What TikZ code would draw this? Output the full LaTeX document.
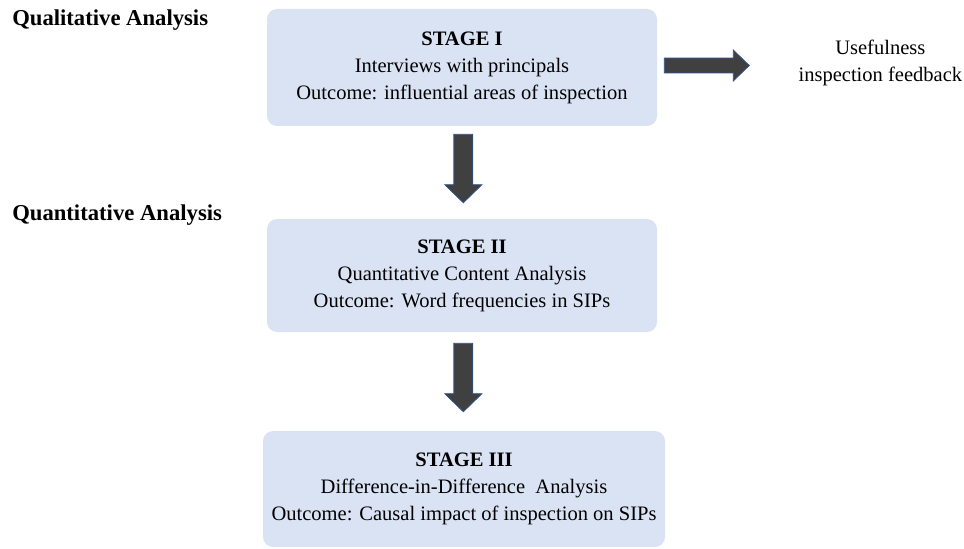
\documentclass[tikz,border=0pt]{standalone}
\usepackage{fontspec}
\setmainfont{Liberation Serif}
\usetikzlibrary{calc,positioning}

\definecolor{stagefill}{HTML}{DAE3F3}
\definecolor{arrowfill}{HTML}{404040}
\definecolor{arrowline}{HTML}{2F528F}

\tikzset{
  stage/.style={rectangle,rounded corners=7.5pt,fill=stagefill,align=center,
    inner sep=0pt,font=\fontsize{15.4}{20.3}\selectfont},
  phase/.style={anchor=base west,inner sep=0pt,font=\fontsize{17}{20}\selectfont\bfseries},
  blockarrow/.style args={#1/#2/#3}{draw=arrowline,fill=arrowfill,line width=0.6pt,
    to path={let \p1=($(\tikztotarget)!#3!(\tikztostart)$) in
      ($(\tikztostart)!#1!90:(\tikztotarget)$) -- ($(\p1)!#1!-90:(\tikztostart)$)
      -- ($(\p1)!#2!-90:(\tikztostart)$) -- (\tikztotarget)
      -- ($(\p1)!#2!90:(\tikztostart)$) -- ($(\p1)!#1!90:(\tikztostart)$)
      -- ($(\tikztostart)!#1!-90:(\tikztotarget)$) -- cycle}}
}

\begin{document}
\begin{tikzpicture}[x=0.75pt,y=-0.75pt]
\useasboundingbox (0,0) rectangle (964,549);

% phases
\node[phase] (qual) at (12,26) {Qualitative Analysis};
\node[phase] (quant) at (12,221) {Quantitative Analysis};

% stages
\node[stage,minimum width=292.5pt,minimum height=87.75pt] (s1) at (462,67.5)
  {\textbf{STAGE I}\\Interviews with principals\\Outcome: influential areas of inspection};
\node[stage,minimum width=292.5pt,minimum height=84.75pt] (s2) at (462,275.5)
  {\textbf{STAGE II}\\Quantitative Content Analysis\\Outcome: Word frequencies in SIPs};
\node[stage,minimum width=301.5pt,minimum height=87pt] (s3) at (464,489)
  {\textbf{STAGE III}\\Difference-in-Difference\ \ Analysis\\Outcome: Causal impact of inspection on SIPs};

\node[right=105.75pt of s1,yshift=3.5pt,align=center,inner sep=0pt,font=\fontsize{15.4}{20.3}\selectfont] (use)
  {Usefulness\\inspection feedback};

% arrows
\draw[blockarrow=7.1pt/13.9pt/13.5pt] ([xshift=1pt,yshift=-6pt]s1.south) to ([xshift=1pt,yshift=12pt]s2.north);
\draw[blockarrow=7.1pt/13.9pt/13.5pt] ([xshift=1pt,yshift=-8.25pt]s2.south) to ([xshift=1pt,yshift=14.25pt]s2.south |- s3.north);
\draw[blockarrow=5.6pt/11.6pt/12pt] ([xshift=5.25pt,yshift=1.5pt]s1.east) to ([xshift=-36.75pt,yshift=1.5pt]use.west |- s1.east);
\end{tikzpicture}
\end{document}
